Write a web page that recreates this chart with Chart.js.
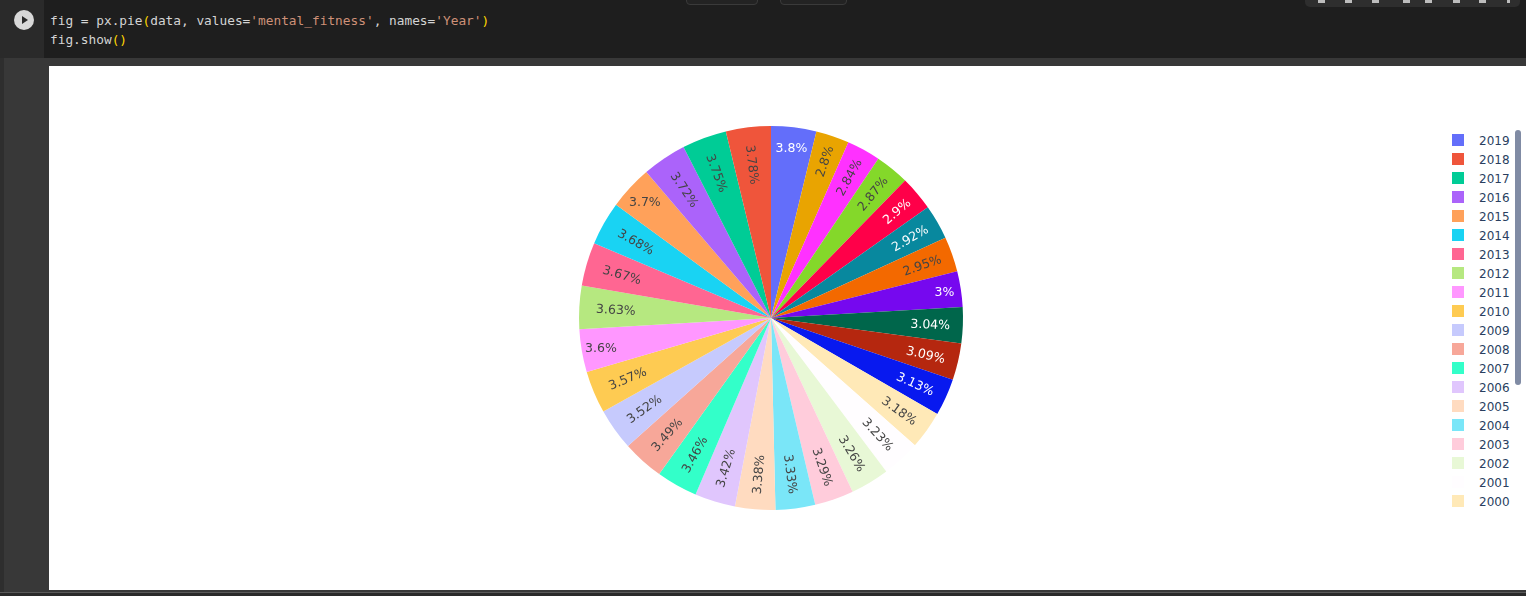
<!DOCTYPE html>
<html>
<head>
<meta charset="utf-8">
<script src="https://cdn.jsdelivr.net/npm/chart.js@4.4.1/dist/chart.umd.min.js"></script>
<style>
  html, body { margin: 0; padding: 0; }
  body { width: 1526px; height: 596px; background: #383838; position: relative; overflow: hidden; font-family: "DejaVu Sans", sans-serif; }
  #cell { position: absolute; left: 0; top: 0; width: 1526px; height: 58px; background: #1e1e1e; }
  #gutter { position: absolute; left: 0; top: 0; width: 44px; height: 58px; background: #2a2a2a; }
  #run { position: absolute; left: 14px; top: 10px; width: 20px; height: 20px; border-radius: 50%; background: #d8d8d8; }
  #run:after { content: ''; position: absolute; left: 8px; top: 5.5px; border-left: 6px solid #2a2a2a; border-top: 4.5px solid transparent; border-bottom: 4.5px solid transparent; }
  #code { position: absolute; left: 50px; top: 11px; font-family: "DejaVu Sans Mono", monospace; font-size: 12.8px; line-height: 19px; color: #d4d4d4; white-space: pre; }
  .s { color: #ce9178; }
  .p { color: #ffd700; }
  .tab { position: absolute; top: -5px; height: 8px; border: 1px solid #3a3a3a; border-radius: 4px; background: #232323; }
  #tools { position: absolute; left: 1305px; top: -6px; width: 215px; height: 13px; background: #2e2e2e; border-radius: 5px; }
  #tools span { position: absolute; top: 6px; width: 7px; height: 3px; background: #bdbdbd; }
  #strip { position: absolute; left: 0; top: 58px; width: 4px; height: 538px; background: #2e2e2e; }
  #out { position: absolute; left: 49px; top: 66px; width: 1477px; height: 524px; background: #fff; }
  #foot { position: absolute; left: 0; top: 592px; width: 1526px; height: 4px; background: #2a2a2a; border-top: 1px solid #5a5a5a; }
  #pie { position: absolute; left: 571px; top: 118px; width: 400px; height: 400px; }
  #legend { position: absolute; left: 1452px; top: 134px; width: 62px; height: 378px; overflow: hidden; }
  .row { position: relative; height: 19px; }
  .sw { position: absolute; left: 0; top: 0; width: 12px; height: 12px; }
  .lb { position: absolute; left: 27px; top: 1px; font-size: 12px; line-height: 12px; color: #2a3f5f; }
  #scroll { position: absolute; left: 1515px; top: 130px; width: 6px; height: 255px; border-radius: 3px; background: #808ba4; }
</style>
</head>
<body>
<div id="cell"></div>
<div id="gutter"></div>
<div id="run"></div>
<div id="code">fig = px.pie<span class="p">(</span>data, values=<span class="s">'mental_fitness'</span>, names=<span class="s">'Year'</span><span class="p">)</span>
fig.show<span class="p">()</span></div>
<div class="tab" style="left:686px;width:70px"></div>
<div class="tab" style="left:780px;width:65px"></div>
<div id="tools"><span style="left:13px"></span><span style="left:40px"></span><span style="left:67px"></span><span style="left:98px"></span><span style="left:120px"></span><span style="left:148px"></span><span style="left:174px"></span><span style="left:202px;width:3px"></span></div>
<div id="strip"></div>
<div id="out"></div>
<div id="foot"></div>
<div id="pie"><canvas id="chart"></canvas></div>
<div id="legend"></div>
<div id="scroll"></div>
<script>
// data (percent of total per year)
const years = [2019, 2018, 2017, 2016, 2015, 2014, 2013, 2012, 2011, 2010,
               2009, 2008, 2007, 2006, 2005, 2004, 2003, 2002, 2001, 2000,
               1999, 1998, 1997, 1996, 1995, 1994, 1993, 1992, 1991, 1990];
const shares = [3.8, 3.78, 3.75, 3.72, 3.7, 3.68, 3.67, 3.63, 3.6, 3.57,
                3.52, 3.49, 3.46, 3.42, 3.38, 3.33, 3.29, 3.26, 3.23, 3.18,
                3.13, 3.09, 3.04, 3, 2.95, 2.92, 2.9, 2.87, 2.84, 2.8];
const baseColors = ['#636EFA', '#EF553B', '#00CC96', '#AB63FA', '#FFA15A',
                    '#19D3F3', '#FF6692', '#B6E880', '#FF97FF', '#FECB52'];
// legend only shows the rows above the scroll fold
const legendRows = 20;

function toRgb(hex) {
  const n = parseInt(hex.slice(1), 16);
  return [n >> 16 & 255, n >> 8 & 255, n & 255];
}

// lighten / darken in HSL like plotly's extendpiecolors
function shade(hex, amt) {
  const [r, g, b] = toRgb(hex).map(v => v / 255);
  const max = Math.max(r, g, b), min = Math.min(r, g, b);
  let h = 0, s = 0, l = (max + min) / 2;
  if (max !== min) {
    const d = max - min;
    s = l > 0.5 ? d / (2 - max - min) : d / (max + min);
    if (max === r) h = (g - b) / d + (g < b ? 6 : 0);
    else if (max === g) h = (b - r) / d + 2;
    else h = (r - g) / d + 4;
    h /= 6;
  }
  l = Math.min(1, Math.max(0, l + amt));
  const f = (p, q, t) => {
    if (t < 0) t += 1;
    if (t > 1) t -= 1;
    if (t < 1 / 6) return p + (q - p) * 6 * t;
    if (t < 1 / 2) return q;
    if (t < 2 / 3) return p + (q - p) * (2 / 3 - t) * 6;
    return p;
  };
  let out;
  if (s === 0) out = [l, l, l];
  else {
    const q = l < 0.5 ? l * (1 + s) : l + s - l * s;
    const p = 2 * l - q;
    out = [f(p, q, h + 1 / 3), f(p, q, h), f(p, q, h - 1 / 3)];
  }
  return '#' + out.map(v => Math.round(v * 255).toString(16).padStart(2, '0')).join('');
}

const colors = baseColors.concat(baseColors.map(c => shade(c, 0.2)), baseColors.map(c => shade(c, -0.2)));

function contrast(hex) {
  const [r, g, b] = toRgb(hex);
  return (r * 299 + g * 587 + b * 114) / 1000 < 128 ? '#ffffff' : '#444444';
}

function pct(v) {
  let s = (v * 100).toPrecision(3);
  if (s.indexOf('.') !== -1) s = s.replace(/[.]?0+$/, '');
  return s + '%';
}

// plotly draws counterclockwise with the first slice ending at 12 o'clock;
// chart.js goes clockwise, so reorder: first, then the rest reversed
const order = [0];
for (let i = years.length - 1; i > 0; i--) order.push(i);

// legend
const legend = document.getElementById('legend');
years.slice(0, legendRows).forEach((y, i) => {
  const row = document.createElement('div');
  row.className = 'row';
  row.innerHTML = '<div class="sw" style="background:' + colors[i] + '"></div><div class="lb">' + y + '</div>';
  legend.appendChild(row);
});

// plotly's inside text fitting
const TEXTPAD = 3;
function maxHalf(a, half, r) {
  const q = a + 1 / (2 * Math.tan(half));
  return r * Math.min(1 / (Math.sqrt(q * q + 0.5) + q), 1 / (Math.sqrt(a * a + 0.5) + a));
}
function rot(t) {
  return (180 / Math.PI * t + 720) % 180 - 90;
}
function fitText(w, h, r, half, mid) {
  const rIns = Math.min(1 / (1 + 1 / Math.sin(half)), 0.5);
  const horiz = { scale: rIns * r * 2 / Math.sqrt(w * w + h * h), rCenter: 1 - rIns, rotate: 0 };
  if (horiz.scale >= 1) return horiz;
  const rr = Math.max(0, r - 2 * TEXTPAD);
  const ra = w / h, rs = maxHalf(ra, half, rr);
  const rad = { scale: rs * 2 / h, rCenter: Math.cos(rs / rr) - ra * rs / rr, rotate: rot(mid) };
  const ta = h / w, ts = maxHalf(ta, half, rr);
  const tan = { scale: ts * 2 / w, rCenter: Math.cos(ts / rr) - ta * ts / rr, rotate: rot(mid + Math.PI / 2) };
  return [horiz, rad, tan].reduce((a, b) => b.scale > a.scale ? b : a);
}

const pieText = {
  id: 'pieText',
  afterDatasetsDraw(chart) {
    const ctx = chart.ctx;
    const ds = chart.data.datasets[0];
    const total = ds.data.reduce((a, b) => a + b, 0);
    ctx.save();
    ctx.font = '12.5px "DejaVu Sans"';
    ctx.textAlign = 'center';
    ctx.textBaseline = 'alphabetic';
    chart.getDatasetMeta(0).data.forEach((arc, i) => {
      const p = arc.getProps(['x', 'y', 'startAngle', 'endAngle', 'outerRadius'], true);
      const txt = pct(ds.data[i] / total);
      const m = ctx.measureText(txt);
      const asc = m.fontBoundingBoxAscent, desc = m.fontBoundingBoxDescent;
      const half = (p.endAngle - p.startAngle) / 2;
      const mid = (p.startAngle + p.endAngle) / 2 + Math.PI / 2;
      const t = fitText(m.width, asc + desc, p.outerRadius, half, mid);
      const d = p.outerRadius * t.rCenter;
      const s = Math.min(1, t.scale);
      ctx.save();
      ctx.translate(p.x + d * Math.sin(mid), p.y - d * Math.cos(mid));
      ctx.rotate(t.rotate * Math.PI / 180);
      ctx.scale(s, s);
      ctx.fillStyle = contrast(ds.backgroundColor[i]);
      ctx.fillText(txt, 0, (asc - desc) / 2);
      ctx.restore();
    });
    ctx.restore();
  }
};

new Chart(document.getElementById('chart'), {
  type: 'pie',
  data: {
    labels: order.map(i => String(years[i])),
    datasets: [{
      data: order.map(i => shares[i]),
      backgroundColor: order.map(i => colors[i]),
      borderWidth: 0
    }]
  },
  options: {
    responsive: true,
    maintainAspectRatio: false,
    animation: false,
    radius: 192,
    plugins: {
      legend: { display: false },
      tooltip: { enabled: false }
    }
  },
  plugins: [pieText]
});
</script>
</body>
</html>
